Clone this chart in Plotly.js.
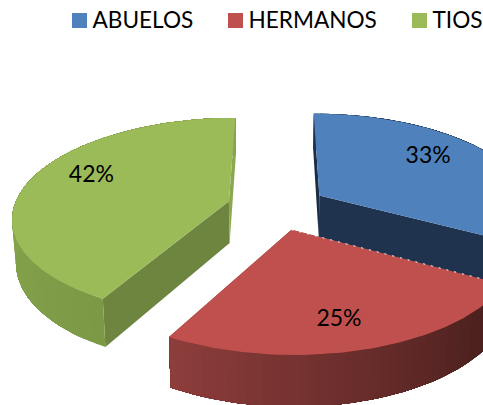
<!DOCTYPE html>
<html><head><meta charset="utf-8">
<script src="https://cdn.plot.ly/plotly-3.0.1.min.js"></script>
<style>html,body{margin:0;padding:0;background:#fff}#c{width:483px;height:405px}</style>
</head><body><div id="c"></div>
<script>
const categories = ['ABUELOS', 'HERMANOS', 'TIOS'];
const values = [33, 25, 42];

const topColors = ['#4f81bd', '#c0504d', '#9bbb59'];
const cutStartColors = ['#1a2d47', '#6d2c2a', '#6e8540'];
const cutEndColors = ['#1f334f', '#6d2c2a', '#8aa84f'];
const wallFrom = [[31,51,79], [66,28,26], [124,153,70]];
const wallTo   = [[31,51,79], [143,62,60], [136,165,78]];
const labelTweak = [-8, 1.7, 10];
const labelRadius = [0.74, 0.76, 0.74];
const drawOrder = [0, 2, 1];

// projection of the tilted disc
const X0 = 277, Y0 = 207, F = 215, G = 98, K = 0.155, DEPTH = 42, BOTTOM = 0.985;
const EXPLODE = 0.233, STEP = 2;
const LABEL_DX = -2.5, LABEL_DY = 2.5;
const rad = d => d * Math.PI / 180;
function project(u, v, z) {
  const w = 1 + K * v;
  return [X0 + F * u / w * (z ? BOTTOM : 1), Y0 - G * v / w + (z ? DEPTH / w : 0)];
}
const total = values.reduce((a, b) => a + b, 0);
let acc = 0;
const slices = values.map(val => {
  const a0 = acc / total * 360; acc += val;
  const a1 = acc / total * 360, mid = (a0 + a1) / 2;
  return {a0, a1, mid, cu: EXPLODE * Math.sin(rad(mid)), cv: EXPLODE * Math.cos(rad(mid))};
});
const rim = (s, a, z) => project(s.cu + Math.sin(rad(a)), s.cv + Math.cos(rad(a)), z);
const hub = (s, z) => project(s.cu, s.cv, z);

const traces = [];
function poly(pts, color, lw) {
  traces.push({type: 'scatter', mode: 'lines', x: pts.map(p => p[0]), y: pts.map(p => p[1]),
    fill: 'toself', fillcolor: color, line: {color: color, width: lw}, hoverinfo: 'skip', showlegend: false});
}
drawOrder.forEach(i => {
  const s = slices[i];
  // radial cut faces
  poly([hub(s,0), rim(s,s.a0,0), rim(s,s.a0,1), hub(s,1)], cutStartColors[i], 0);
  poly([hub(s,0), rim(s,s.a1,0), rim(s,s.a1,1), hub(s,1)], cutEndColors[i], 0);
  // curved wall: nested bands painted one over the next so the shading has no seams
  for (let a = s.a0; a < s.a1; a += STEP) {
    const f = (a - s.a0) / (s.a1 - s.a0);
    const t = i === 2 ? Math.min(1, f * 2.2) : f;
    const c = wallFrom[i].map((v, k) => Math.round(v + (wallTo[i][k] - v) * t));
    const up = [], down = [];
    for (let b = a; b < s.a1; b += STEP) { up.push(rim(s,b,0)); down.unshift(rim(s,b,1)); }
    up.push(rim(s,s.a1,0)); down.unshift(rim(s,s.a1,1));
    poly(up.concat(down), 'rgb(' + c.join(',') + ')', 0);
  }
  // top face
  const pts = [hub(s,0)];
  for (let a = s.a0; a < s.a1; a += 1) pts.push(rim(s,a,0));
  pts.push(rim(s,s.a1,0), hub(s,0));
  poly(pts, topColors[i], 0);
  // thin speckled seam where the red slice overlaps the navy face
  if (i === 1) {
    const e = [hub(s,0), rim(s,s.a0,0)];
    traces.push({type: 'scatter', mode: 'lines', x: e.map(p => p[0]), y: e.map(p => p[1]),
      line: {color: '#ffffff', width: 1, dash: '2px,6px'}, hoverinfo: 'skip', showlegend: false});
  }
});

// percentage labels
const labelPts = slices.map((s, i) => {
  const a = rad(s.mid + labelTweak[i]);
  return project(s.cu + labelRadius[i] * Math.sin(a), s.cv + labelRadius[i] * Math.cos(a), 0);
});
traces.push({type: 'scatter', mode: 'text', x: labelPts.map(p => p[0] + LABEL_DX), y: labelPts.map(p => p[1] + LABEL_DY),
  text: values.map(v => Math.round(v / total * 100) + '%'), textposition: 'middle center',
  textfont: {family: 'Lato, Carlito, sans-serif', size: 23, color: '#000'}, hoverinfo: 'skip', showlegend: false, cliponaxis: false});

// legend row
const LEG_X = [79.5, 235.5, 419.5], LEG_Y = 20.5, LEG_TEXT_GAP = 13, LEG_TEXT_DY = 1.5;
categories.forEach((name, i) => {
  traces.push({type: 'scatter', mode: 'markers', x: [LEG_X[i]], y: [LEG_Y],
    marker: {symbol: 'square', size: 15, color: topColors[i]}, hoverinfo: 'skip', showlegend: false, cliponaxis: false});
  traces.push({type: 'scatter', mode: 'text', x: [LEG_X[i] + LEG_TEXT_GAP], y: [LEG_Y + LEG_TEXT_DY], text: [name],
    textposition: 'middle right', textfont: {family: 'Lato, Carlito, sans-serif', size: 22.6, color: '#000'},
    hoverinfo: 'skip', showlegend: false, cliponaxis: false});
});

Plotly.newPlot('c', traces, {
  width: 483, height: 405, margin: {l: 0, r: 0, t: 0, b: 0},
  paper_bgcolor: '#fff', plot_bgcolor: '#fff', showlegend: false,
  xaxis: {range: [0, 483], visible: false, fixedrange: true},
  yaxis: {range: [405, 0], visible: false, fixedrange: true}
}, {displayModeBar: false, staticPlot: true});
</script></body></html>
